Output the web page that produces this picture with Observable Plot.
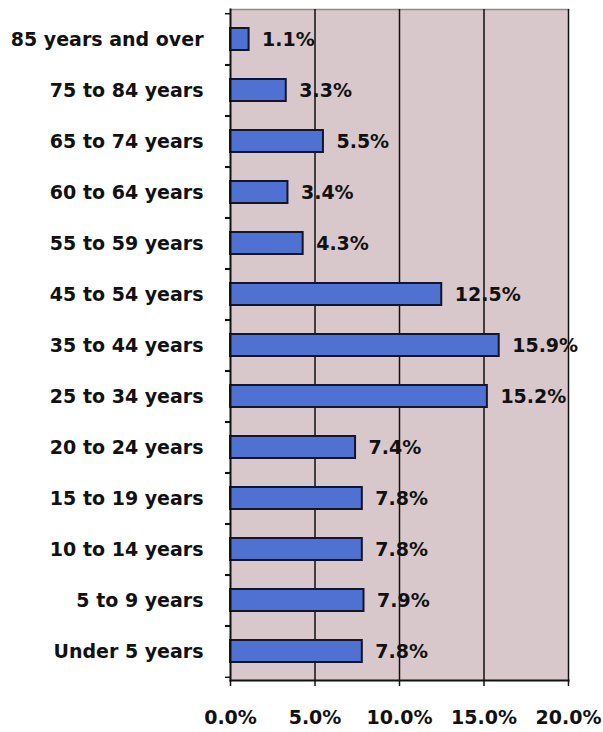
<!DOCTYPE html>
<html>
<head>
<meta charset="utf-8">
<script src="https://cdn.jsdelivr.net/npm/d3@7"></script>
<script src="https://cdn.jsdelivr.net/npm/@observablehq/plot@0.6"></script>
<style>
  html, body { margin: 0; padding: 0; background: #ffffff; }
  #chart svg { display: block; }
</style>
</head>
<body>
<div id="chart"></div>
<script>
const categories = ["Under 5 years","5 to 9 years","10 to 14 years","15 to 19 years","20 to 24 years","25 to 34 years","35 to 44 years","45 to 54 years","55 to 59 years","60 to 64 years","65 to 74 years","75 to 84 years","85 years and over"];
const values = [7.8, 7.9, 7.8, 7.8, 7.4, 15.2, 15.9, 12.5, 4.3, 3.4, 5.5, 3.3, 1.1];
const xTicks = [0, 5, 10, 15, 20];
const gridTicks = [5, 10, 15, 20];

const data = categories.map((c, i) => ({category: c, value: values[i]}));
const order = categories.slice().reverse();

const W = 603, H = 732, mt = 9, mb = 52;
const step = (H - mt - mb) / categories.length;

const font = "'DejaVu Sans', sans-serif";

const chart = Plot.plot({
  width: W,
  height: H,
  marginLeft: 230,
  marginRight: 35,
  marginTop: mt,
  marginBottom: mb,
  style: {background: "#ffffff", fontFamily: font, fontWeight: "bold", color: "#111"},
  x: {domain: [0, 20], axis: null},
  y: {domain: order, paddingInner: 0.575, paddingOuter: 0.2875, axis: null},
  marks: [
    Plot.frame({fill: "#d8c8cb", stroke: null}),
    Plot.frame({anchor: "top", stroke: "#8a8a8a", strokeWidth: 1.5}),
    Plot.ruleX(gridTicks, {stroke: "#111", strokeWidth: 1.5}),
    Plot.barX(data, {x: "value", y: "category", fill: "#4f72d2", stroke: "#15152a", strokeWidth: 2}),
    Plot.text(data, {x: "value", y: "category", text: d => d.value.toFixed(1) + "%", textAnchor: "start", dx: 13, fontSize: 19, fontWeight: "bold", fill: "#111", letterSpacing: -0.3}),
    Plot.frame({anchor: "left", stroke: "#111", strokeWidth: 2}),
    Plot.frame({anchor: "bottom", stroke: "#111", strokeWidth: 2}),
    Plot.axisY({label: null, tickSize: 0, tickPadding: 27, fontSize: 19, fontWeight: "bold", letterSpacing: -0.4, fill: "#111"}),
    Plot.axisY({label: null, tickSize: 5, tickFormat: () => "", dy: step / 2, stroke: "#111", strokeWidth: 1.5}),
    Plot.axisY({label: null, tickSize: 5, tickFormat: () => "", dy: -step / 2, stroke: "#111", strokeWidth: 1.5}),
    Plot.axisX({label: null, ticks: xTicks, tickSize: 6, tickPadding: 24, tickFormat: d => d.toFixed(1) + "%", fontSize: 19, fontWeight: "bold", fill: "#111", stroke: "#111", strokeWidth: 1.5})
  ]
});
document.getElementById("chart").appendChild(chart);
</script>
</body>
</html>
